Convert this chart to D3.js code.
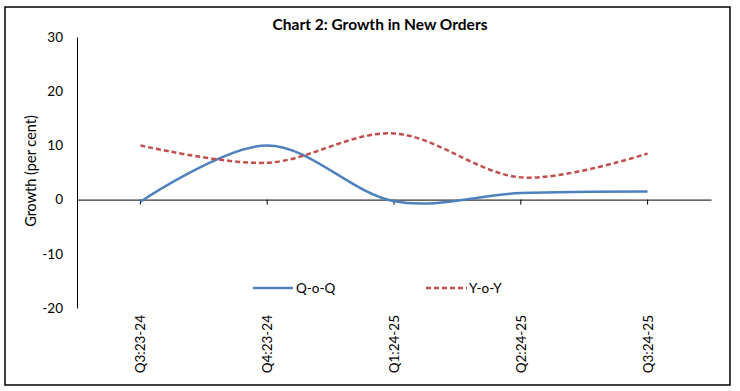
<!DOCTYPE html>
<html><head><meta charset="utf-8">
<script src="https://cdn.jsdelivr.net/npm/d3@7"></script>
<style>body{margin:0;background:#fff}svg{display:block}text{font-family:Lato,"Open Sans",sans-serif;fill:#000}</style>
</head><body><svg id="c" width="740" height="391"></svg>
<script>
const categories = ["Q3:23-24","Q4:23-24","Q1:24-25","Q2:24-25","Q3:24-25"];
const qoq = [-0.4, 10.0, -0.3, 1.2, 1.5];
const yoy = [10.0, 6.8, 12.2, 4.1, 8.5];
const yTicks = [-20,-10,0,10,20,30];
const seriesNames = ["Q-o-Q","Y-o-Y"];

const svg = d3.select("#c");
svg.append("rect").attr("x",5).attr("y",7).attr("width",725).attr("height",378)
  .attr("fill","none").attr("stroke","#000").attr("stroke-width",1.5);

const x = d3.scaleBand().domain(categories).range([77,711]);
const y = d3.scaleLinear().domain([-20,30]).range([308,37]);
const cx = d => x(d) + x.bandwidth()/2;

svg.append("text").attr("x",380).attr("y",30).attr("text-anchor","middle")
  .style("font-weight","bold").style("font-size","15.5px").text("Chart 2: Growth in New Orders");

// y axis
const ya = svg.append("g").attr("transform","translate(77,0)")
  .call(d3.axisLeft(y).tickValues(yTicks).tickSize(0).tickPadding(14).tickFormat(d => String(d)));
ya.select(".domain").attr("stroke","#000");
ya.selectAll("text").style("font-size","13.5px").style("font-family","Lato,sans-serif");

svg.append("text").attr("transform","translate(36,171) rotate(-90)").attr("text-anchor","middle")
  .style("font-size","14.5px").text("Growth (per cent)");

// x axis at zero
const xa = svg.append("g").attr("transform",`translate(0,${y(0)})`)
  .call(d3.axisBottom(x).tickSize(5).tickSizeOuter(0).tickFormat(""));
xa.select(".domain").attr("stroke","#000");
xa.selectAll(".tick line").attr("stroke","#000");

// x labels
svg.selectAll(".xl").data(categories).enter().append("text")
  .attr("transform", d => `translate(${cx(d)+5},315) rotate(-90)`)
  .attr("text-anchor","end").style("font-size","13.5px").text(d=>d);

const line = d3.line().x((d,i)=>cx(categories[i])).y(d=>y(d)).curve(d3.curveCardinal.tension(0));
svg.append("path").datum(qoq).attr("d",line).attr("fill","none")
  .attr("stroke","#4F81BD").attr("stroke-width",2.5);
svg.append("path").datum(yoy).attr("d",line).attr("fill","none")
  .attr("stroke","#C0504D").attr("stroke-width",2.5).attr("stroke-dasharray","5,3");

// legend
const lg = svg.append("g");
lg.append("line").attr("x1",253).attr("x2",293).attr("y1",288).attr("y2",288)
  .attr("stroke","#4F81BD").attr("stroke-width",2.5);
lg.append("text").attr("x",296).attr("y",293).style("font-size","13.5px").text(seriesNames[0]);
lg.append("line").attr("x1",426).attr("x2",467).attr("y1",288).attr("y2",288)
  .attr("stroke","#C0504D").attr("stroke-width",2.5).attr("stroke-dasharray","5,3");
lg.append("text").attr("x",469).attr("y",293).style("font-size","13.5px").text(seriesNames[1]);
</script></body></html>
